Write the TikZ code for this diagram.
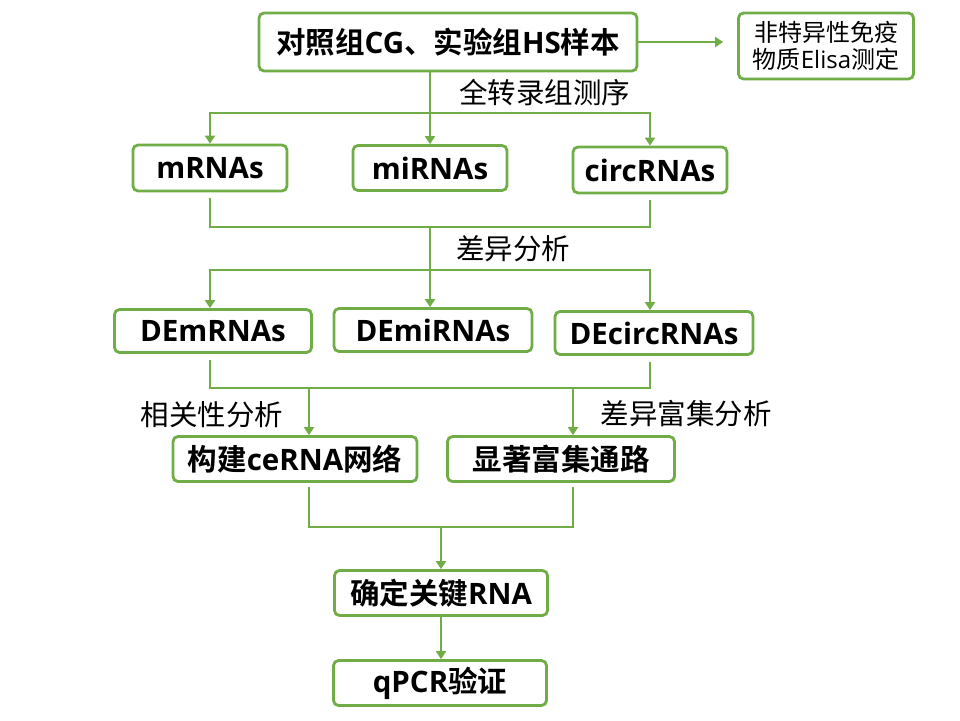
\documentclass[tikz,border=0pt]{standalone}
\usepackage{fontspec}
\setmainfont{Open Sans}
\newfontfamily\cjk{Noto Sans CJK SC}[BoldFont={Noto Sans CJK SC Bold}]
\usetikzlibrary{arrows.meta}
\definecolor{leaf}{HTML}{70AD47}
\newcommand\zh[1]{{\cjk #1}}

\begin{document}
\begin{tikzpicture}[x=1pt,y=-1pt,
    box/.style={draw=leaf, line width=2.8pt, rounded corners=5pt, fill=white, inner sep=0pt,
                font=\fontsize{29.5}{32}\selectfont\bfseries},
    link/.style={leaf, line width=2.8pt},
    arr/.style={link, -{Triangle[width=10pt,length=8pt]}},
    lbl/.style={font=\fontsize{28.5}{32}\selectfont, inner sep=0pt}]
  \useasboundingbox (0,0) rectangle (960,720);
  \foreach \n/\x/\y/\w/\h/\t in {top/448/42/378/58/{\zh{对照组}CG\zh{、实验组}HS\zh{样本}},
                                 mrna/210/168/154/46/mRNAs, mirna/430/168/154/45/miRNAs,
                                 circ/650/170/154/46/circRNAs,
                                 dem/213/331/197/43/DEmRNAs, demi/433/330/198/43/DEmiRNAs,
                                 decirc/654/333/198/43/DEcircRNAs,
                                 cerna/295/459/244/45/{\zh{构建}ceRNA\zh{网络}},
                                 path/561/459/227/45/{\zh{显著富集通路}},
                                 key/441/593/213/45/{\zh{确定关键}RNA},
                                 qpcr/440/683/213/45/{qPCR\zh{验证}}}
    { \node[box, minimum width=\w pt, minimum height=\h pt] (\n) at (\x,\y) {\t}; }
  \node[box, font=\fontsize{24}{27}\selectfont, align=center, minimum width=175pt,
        minimum height=66pt] (side) at (826,46) {\zh{非特异性免疫}\\\zh{物质}Elisa\zh{测定}};

  \coordinate (j1) at (430,113);
  \coordinate (j2) at (430,227);
  \coordinate (j3) at (430,270);
  \coordinate (j4) at (309,388);
  \coordinate (j5) at (573,388);
  \coordinate (j6) at (441,527);

  \draw[arr, shorten >=14pt] (top.east) -- (top.east -| side.west);
  \draw[link] (top.south -| j1) -- (j1);
  \draw[arr] (j1) -- (j1 |- mirna.north);
  \draw[arr] (j1) -| (mrna.north);
  \draw[arr] (j1) -| (circ.north);

  \draw[link, shorten <=6pt, shorten >=6pt] (mrna.south) |- (j2) -| (circ.south);
  \draw[arr] (j2) -- (j2 |- demi.north);
  \draw[arr] (j3) -| (dem.north -| mrna.south);
  \draw[arr] (j3) -| (decirc.north -| circ.south);

  \draw[link, shorten <=6pt, shorten >=6pt] (dem.south -| mrna.south) |- (j4) -- (j5)
        -| (decirc.south -| circ.south);
  \draw[arr] (j4) -- (j4 |- cerna.north);
  \draw[arr] (j5) -- (j5 |- path.north);

  \draw[link, shorten <=4pt, shorten >=4pt] (cerna.south -| j4) |- (j6) -| (path.south -| j5);
  \draw[arr] (j6) -- (j6 |- key.north);
  \draw[arr] (key.south) -- (key.south |- qpcr.north);

  \node[lbl, anchor=west] (seq) at (459,93) {\zh{全转录组测序}};
  \node[lbl, anchor=west] (diff) at (456,249) {\zh{差异分析}};
  \node[lbl] (corr) at (212,415) {\zh{相关性分析}};
  \node[lbl] (enrich) at (686,414) {\zh{差异富集分析}};
\end{tikzpicture}
\end{document}
